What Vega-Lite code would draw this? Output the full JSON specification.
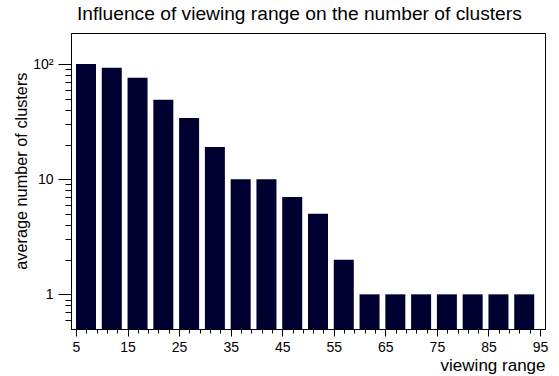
{
  "$schema": "https://vega.github.io/schema/vega-lite/v6.json",
  "width": 474,
  "height": 296,
  "autosize": {"type": "none"},
  "padding": {"left": 71, "top": 33, "right": 14, "bottom": 47},
  "background": "white",
  "config": {
    "font": "Liberation Sans",
    "view": {"stroke": "black", "strokeWidth": 1},
    "axis": {"grid": false, "domainColor": "black", "tickColor": "black", "labelColor": "black", "titleColor": "black", "labelFont": "Liberation Sans", "titleFont": "Liberation Sans", "titleFontWeight": "normal"}
  },
  "title": {
    "text": "Influence of viewing range on the number of clusters",
    "font": "Liberation Sans",
    "fontSize": 19.2,
    "fontWeight": "normal",
    "color": "black",
    "anchor": "start",
    "frame": "group",
    "dx": 6,
    "offset": 9
  },
  "data": {
    "values": [
      {"range": 5, "clusters": 100},
      {"range": 10, "clusters": 93},
      {"range": 15, "clusters": 76},
      {"range": 20, "clusters": 49},
      {"range": 25, "clusters": 34},
      {"range": 30, "clusters": 19},
      {"range": 35, "clusters": 10},
      {"range": 40, "clusters": 10},
      {"range": 45, "clusters": 7},
      {"range": 50, "clusters": 5},
      {"range": 55, "clusters": 2},
      {"range": 60, "clusters": 1},
      {"range": 65, "clusters": 1},
      {"range": 70, "clusters": 1},
      {"range": 75, "clusters": 1},
      {"range": 80, "clusters": 1},
      {"range": 85, "clusters": 1},
      {"range": 90, "clusters": 1}
    ]
  },
  "mark": {"type": "bar", "color": "#000030", "width": 20, "xOffset": 10, "clip": true},
  "encoding": {
    "x": {
      "field": "range",
      "type": "quantitative",
      "scale": {"domain": [5, 95], "nice": false, "zero": false},
      "axis": {
        "title": "viewing range",
        "titleFontSize": 17,
        "titleAnchor": "end",
        "titleAlign": "right",
        "titleBaseline": "alphabetic",
        "titleX": 474,
        "titleY": 41,
        "values": [5, 7, 9, 11, 13, 15, 17, 19, 21, 23, 25, 27, 29, 31, 33, 35, 37, 39, 41, 43, 45, 47, 49, 51, 53, 55, 57, 59, 61, 63, 65, 67, 69, 71, 73, 75, 77, 79, 81, 83, 85, 87, 89, 91, 93, 95],
        "tickSize": {"condition": {"test": "(datum.value - 5) % 10 == 0", "value": 7}, "value": 4},
        "labelExpr": "(datum.value - 5) % 10 == 0 ? datum.label : ''",
        "labelFontSize": 14,
        "labelPadding": 4,
        "labelFlush": false,
        "labelOverlap": false
      }
    },
    "y": {
      "field": "clusters",
      "type": "quantitative",
      "scale": {"type": "log", "domain": [0.5, 186], "nice": false},
      "axis": {
        "title": "average number of clusters",
        "titleFontSize": 16.3,
        "titleAlign": "right",
        "titleBaseline": "alphabetic",
        "titleAngle": -90,
        "titleX": -45,
        "titleY": 39,
        "values": [0.6, 0.7, 0.8, 0.9, 1, 2, 3, 4, 5, 6, 7, 8, 9, 10, 20, 30, 40, 50, 60, 70, 80, 90, 100],
        "tickSize": {"condition": {"test": "datum.value == 1 || datum.value == 10 || datum.value == 100", "value": 13}, "value": 6},
        "labelExpr": "datum.value == 100 ? '10²' : datum.value == 10 ? '10' : datum.value == 1 ? '1' : ''",
        "labelFontSize": 14,
        "labelPadding": 5,
        "labelOverlap": false,
        "labelFlush": false
      }
    },
    "y2": {"datum": 0.5}
  }
}
